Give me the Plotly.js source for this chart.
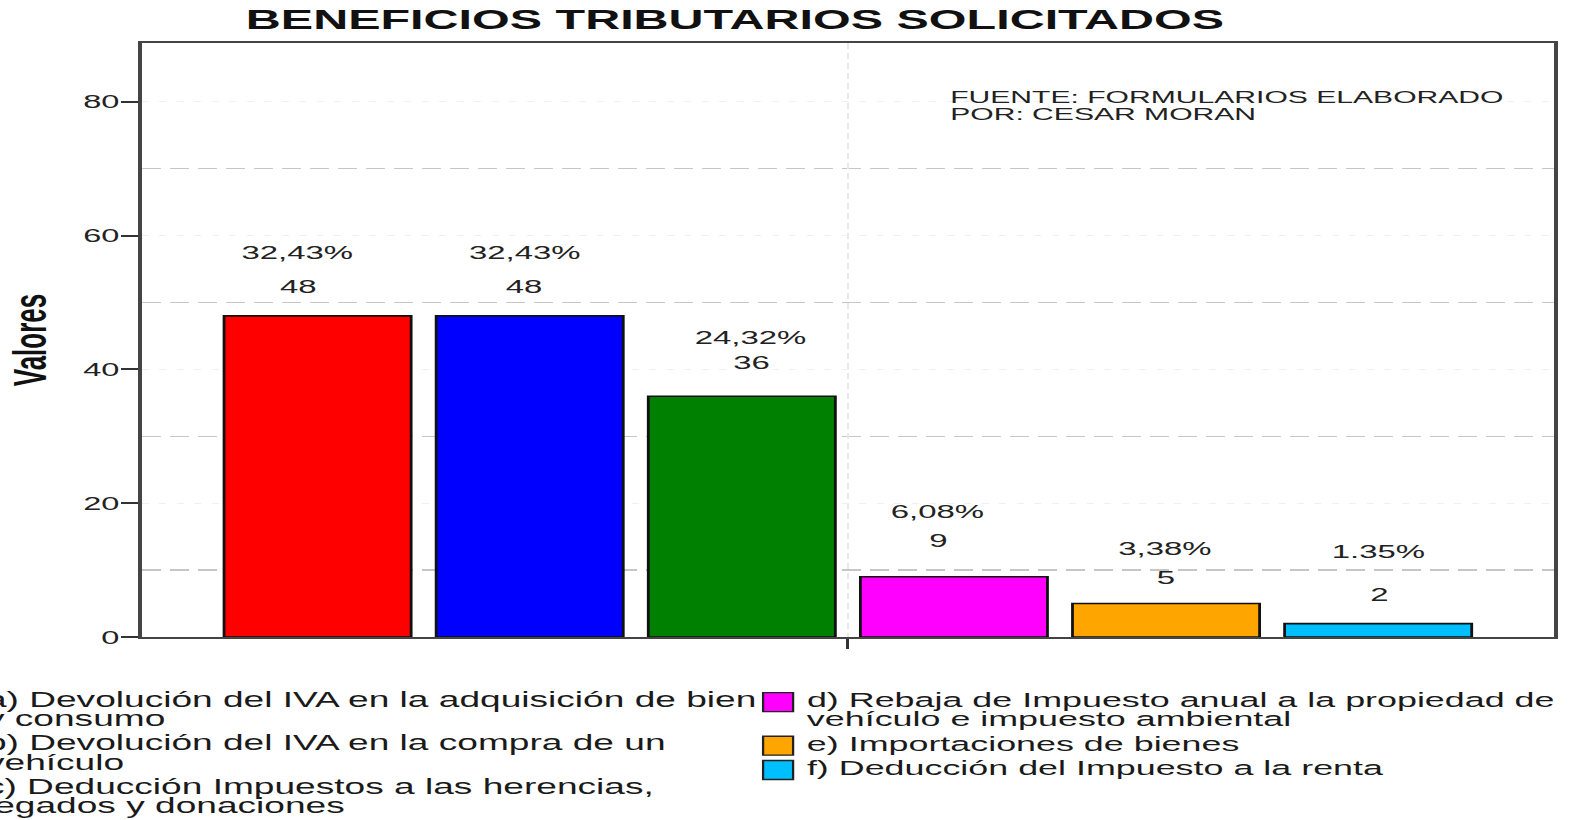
<!DOCTYPE html>
<html><head><meta charset="utf-8">
<script src="https://cdn.plot.ly/plotly-3.0.1.min.js"></script>
<style>
html,body{margin:0;padding:0;overflow:hidden;background:#fff;width:1590px;height:820px;}
#chart{transform-origin:0 0;}
</style></head><body>
<div id="chart"></div>
<script>
// ---------- data ----------
const categories = ["a)", "b)", "c)", "d)", "e)", "f)"];
const legendLabels = [
  "a) Devolución del IVA en la adquisición de bien<br>y consumo",
  "b) Devolución del IVA en la compra de un<br>vehículo",
  "c) Deducción Impuestos a las herencias,<br>legados y donaciones",
  "d) Rebaja de Impuesto anual a la propiedad de<br>vehículo e impuesto ambiental",
  "e) Importaciones de bienes",
  "f) Deducción del Impuesto a la renta"
];
const counts = [48, 48, 36, 9, 5, 2];
const percentLabels = ["32,43%", "32,43%", "24,32%", "6,08%", "3,38%", "1.35%"];
const barColors = ["#FF0000", "#0000FF", "#008000", "#FF00FF", "#FFA500", "#00BFFF"];
const yTickVals = [0, 20, 40, 60, 80];
const chartTitle = "BENEFICIOS TRIBUTARIOS SOLICITADOS";
const yTitle = "Valores";
const sourceLines = ["FUENTE: FORMULARIOS ELABORADO", "POR: CESAR MORAN"];

// ---------- label placement (hand-placed in the original, full-size px) ----------
const labelNudges = [
  {dx: -20, count: 29, pct: 63},
  {dx: -5,  count: 29, pct: 63},
  {dx: 9,   count: 34, pct: 59},
  {dx: -16, count: 36, pct: 65},
  {dx: -1,  count: 26, pct: 55},
  {dx: 0,   count: 29, pct: 72}
];

// ---------- geometry (the reference picture is stretched horizontally) ----------
const SX = 1.75;
const W = 1590 / SX, H = 820;
const FONT = "Liberation Sans, Arial, Helvetica, sans-serif";
const L = 142 / SX, R = 1553.5 / SX, T = 42.6, B = 637;
const plotW = R - L, plotH = B - T;
const pxX = x => (x / SX - L) / plotW;     // full-size x -> paper
const pxY = y => (B - y) / plotH;          // full-size y -> paper

const div = document.getElementById('chart');
div.style.width = W + 'px';
div.style.height = H + 'px';
div.style.transform = 'scaleX(' + SX + ')';

const xIdx = categories.map((c, i) => i);
const mid = (categories.length - 1) / 2;
const halfSpan = plotW / (212 / SX) / 2;

const trace = {
  type: 'bar',
  x: xIdx,
  y: counts,
  marker: {color: barColors, line: {color: '#111', width: 1.6}},
  hoverinfo: 'skip',
  showlegend: false
};

const annotations = [];
counts.forEach((v, i) => {
  const n = labelNudges[i];
  annotations.push({x: i, y: v, xref: 'x', yref: 'y', text: String(v), showarrow: false,
    yanchor: 'middle', xshift: n.dx / SX, yshift: n.count,
    font: {family: FONT, size: 18.8, color: '#222'}});
  annotations.push({x: i, y: v, xref: 'x', yref: 'y', text: percentLabels[i], showarrow: false,
    yanchor: 'middle', xshift: n.dx / SX, yshift: n.pct,
    font: {family: FONT, size: 18.8, color: '#222'}});
});

sourceLines.forEach((t, k) => {
  annotations.push({x: pxX(946), y: pxY(96.3 + k * 17.7), xref: 'paper', yref: 'paper',
    xanchor: 'left', yanchor: 'middle', text: t, showarrow: false,
    font: {family: FONT, size: 17.2, color: '#222'}});
});

// legend (two columns, drawn as text + swatches)
const shapes = [];
const perCol = 3;
const colTextX = [-18, 804];
const colSwatchX = [-60, 763];
const colFont = [21.2, 20.5];
for (let col = 0; col < 2; col++) {
  let y = 699.7;
  for (let k = 0; k < perCol; k++) {
    const i = col * perCol + k;
    const lines = legendLabels[i].split('<br>');
    shapes.push({type: 'rect', xref: 'paper', yref: 'paper',
      x0: pxX(colSwatchX[col]), x1: pxX(colSwatchX[col] + 30),
      y0: pxY(y - 7), y1: pxY(y + 12),
      fillcolor: barColors[i], line: {color: '#222', width: 1.3}});
    lines.forEach((ln, j) => {
      annotations.push({x: pxX(colTextX[col]), y: pxY(y), xref: 'paper', yref: 'paper',
        xanchor: 'left', yanchor: 'middle', text: ln, showarrow: false,
        font: {family: FONT, size: colFont[col], color: '#1a1a1a'}});
      if (j < lines.length - 1) y += 19.3;
    });
    y += 24.3;
  }
}

const layout = {
  width: W, height: H,
  margin: {l: L, r: W - R, t: T, b: H - B, pad: 0},
  paper_bgcolor: '#fff', plot_bgcolor: '#fff',
  bargap: 1 - 187 / 212,
  title: {text: chartTitle, xref: 'container', yref: 'container',
    x: (735 / SX) / W, y: 1 - 19.2 / H, xanchor: 'center', yanchor: 'middle',
    font: {family: FONT, size: 27.7, color: '#111', weight: 700}},
  xaxis: {
    range: [mid - halfSpan, mid + halfSpan],
    tickmode: 'array', tickvals: [mid], ticktext: [''],
    ticks: 'outside', ticklen: 10, tickwidth: 1.7, tickcolor: '#333',
    showgrid: true, gridcolor: '#e8e8e8', griddash: '6px,4px', gridwidth: 1,
    showline: true, linecolor: '#444', linewidth: 2, mirror: true,
    zeroline: false, fixedrange: true
  },
  yaxis: {
    range: [0, 88.8],
    tickmode: 'array', tickvals: yTickVals,
    ticks: 'outside', ticklen: 10, tickwidth: 2, tickcolor: '#333',
    ticklabelstandoff: -3,
    tickfont: {family: FONT, size: 18.6, color: '#222'},
    showgrid: true, gridcolor: '#f0f0f0', griddash: '4px,6px', gridwidth: 1,
    minor: {tickmode: 'linear', tick0: 10, dtick: 20, showgrid: true,
      gridcolor: '#c6c6c6', griddash: '11px,5px', gridwidth: 1.4, ticks: ''},
    showline: true, linecolor: '#444', linewidth: 2, mirror: true,
    zeroline: false, fixedrange: true,
    title: {text: yTitle, standoff: 13, font: {family: FONT, size: 26, color: '#111', weight: 700}}
  },
  annotations: annotations,
  shapes: shapes
};

Plotly.newPlot(div, [trace], layout, {displayModeBar: false, staticPlot: true});
</script>
</body></html>
